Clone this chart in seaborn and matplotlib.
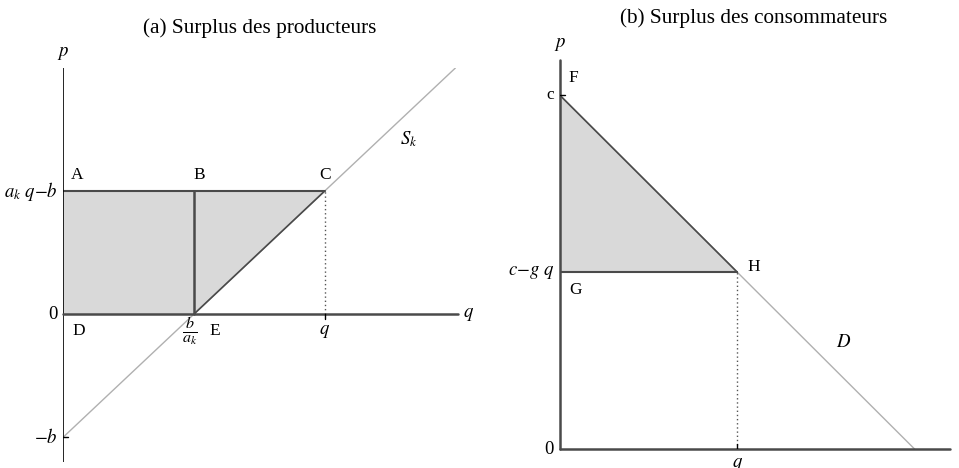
import matplotlib
matplotlib.use("Agg")
import matplotlib.pyplot as plt
import seaborn as sns
import pandas as pd

# ---- data ----
supply_q = [0, 1, 2, 3]
supply_p = [-1, 0, 1, 2]
prod_poly_q = [0, 2, 1, 0]        # A, C, E, D
prod_poly_p = [1, 1, 0, 0]
price_level_a = 1                  # a_k q - b
b_over_a = 1
q_star_a = 2

demand_q = [0, 1, 2]
demand_p = [2, 1, 0]
cons_poly_q = [0, 1, 0]           # F(c), H, G
cons_poly_p = [2, 1, 1]
q_star_b = 1
price_level_b = 1                  # c - g q
c_val = 2

sns.set_style("white")
plt.rcParams['font.family'] = ['Liberation Serif', 'DejaVu Serif']
plt.rcParams['mathtext.fontset'] = 'stix'
plt.rcParams['text.color'] = 'black'

fig = plt.figure(figsize=(9.59, 4.68), dpi=100)
ax1 = fig.add_axes([63/959, 6/468, 395/959, 394/468])
ax2 = fig.add_axes([560/959, 19/468, 390/959, 389/468])

dark = "#4a4a4a"
light = "#b0b0b0"
fillc = "#d9d9d9"
fs = 12.5

# ---------- panel (a) ----------
ax = ax1
ax.set_xlim(0, 3.02)
ax.set_ylim(-1.2, 2.0)
for s in ax.spines.values():
    s.set_visible(False)
ax.set_xticks([]); ax.set_yticks([])
ax.fill(prod_poly_q, prod_poly_p, color=fillc, zorder=1, lw=0)
sns.lineplot(x=supply_q, y=supply_p, ax=ax, color=light, lw=1, zorder=2)
ax.plot([0, q_star_a], [price_level_a, price_level_a], color=dark, lw=1.5, zorder=3)
ax.plot([b_over_a, q_star_a], [0, price_level_a], color=dark, lw=1.2, zorder=3)
ax.plot([b_over_a, b_over_a], [0, price_level_a], color=dark, lw=1.8, zorder=3)
ax.plot([q_star_a, q_star_a], [0, price_level_a], color="#555555", lw=1, ls=(0, (1, 2)), zorder=3)
ax.axvline(0, color="black", lw=1.2, zorder=4)
ax.plot([0, 3.02], [0, 0], color=dark, lw=1.8, zorder=4, clip_on=False)
ax.plot([q_star_a, q_star_a], [-0.04, 0], color="black", lw=1, zorder=4)
ax.plot([0, 0.04], [-1, -1], color="black", lw=1, zorder=4)
ax.text(-0.04, 1, r"$a_k\ q{-}b$", ha="right", va="center", fontsize=fs + 1)
ax.text(-0.04, 0, "0", ha="right", va="center", fontsize=fs + 1)
ax.text(-0.04, -1, r"$-b$", ha="right", va="center", fontsize=fs + 1)
ax.text(0.06, 1.07, "A", ha="left", va="bottom", fontsize=fs)
ax.text(1.0, 1.07, "B", ha="left", va="bottom", fontsize=fs)
ax.text(1.96, 1.07, "C", ha="left", va="bottom", fontsize=fs)
ax.text(0.07, -0.07, "D", ha="left", va="top", fontsize=fs)
ax.text(1.12, -0.07, "E", ha="left", va="top", fontsize=fs)
ax.text(0.97, -0.01, r"$\frac{b}{a_k}$", ha="center", va="top", fontsize=fs + 4)
ax.text(q_star_a, -0.07, r"$q$", ha="center", va="top", fontsize=fs + 1)
ax.text(3.06, 0, r"$q$", ha="left", va="center", fontsize=fs + 1)
ax.text(0, 2.05, r"$p$", ha="center", va="bottom", fontsize=fs + 1)
ax.text(2.64, 1.42, r"$S_k$", ha="center", va="center", fontsize=fs + 1)

# ---------- panel (b) ----------
ax = ax2
ax.set_xlim(0, 2.2)
ax.set_ylim(0, 2.2)
for s in ax.spines.values():
    s.set_visible(False)
ax.set_xticks([]); ax.set_yticks([])
ax.fill(cons_poly_q, cons_poly_p, color=fillc, zorder=1, lw=0)
sns.lineplot(x=demand_q, y=demand_p, ax=ax, color=light, lw=1, zorder=2)
ax.plot([0, q_star_b], [c_val, price_level_b], color=dark, lw=1.2, zorder=3)
ax.plot([0, q_star_b], [price_level_b, price_level_b], color=dark, lw=1.5, zorder=3)
ax.plot([q_star_b, q_star_b], [0, price_level_b], color="#555555", lw=1, ls=(0, (1, 2)), zorder=3)
ax.plot([0, 0], [0, 2.2], color=dark, lw=1.8, zorder=4, clip_on=False)
ax.plot([0, 2.2], [0, 0], color=dark, lw=1.8, zorder=4, clip_on=False)
ax.plot([q_star_b, q_star_b], [0, 0.03], color="black", lw=1, zorder=4)
ax.plot([0, 0.03], [c_val, c_val], color="black", lw=1, zorder=4)
ax.text(-0.035, c_val, "c", ha="right", va="center", fontsize=fs)
ax.text(-0.035, price_level_b, r"$c{-}g\ q$", ha="right", va="center", fontsize=fs + 1)
ax.text(-0.035, 0, "0", ha="right", va="center", fontsize=fs + 1)
ax.text(0.05, 2.1, "F", ha="left", va="center", fontsize=fs)
ax.text(0.05, 0.9, "G", ha="left", va="center", fontsize=fs)
ax.text(1.06, 1.03, "H", ha="left", va="center", fontsize=fs)
ax.text(1.6, 0.6, r"$D$", ha="center", va="center", fontsize=fs + 1)
ax.text(q_star_b, -0.04, r"$q$", ha="center", va="top", fontsize=fs + 1)
ax.text(2.25, 0, r"$q$", ha="left", va="center", fontsize=fs + 1, clip_on=False)
ax.text(0, 2.24, r"$p$", ha="center", va="bottom", fontsize=fs + 1)

fig.text(260/959, 1 - 28/468, "(a) Surplus des producteurs", ha="center", va="center", fontsize=15.3)
fig.text(754/959, 1 - 18/468, "(b) Surplus des consommateurs", ha="center", va="center", fontsize=15.3)

fig.savefig("out.png", dpi=100)
